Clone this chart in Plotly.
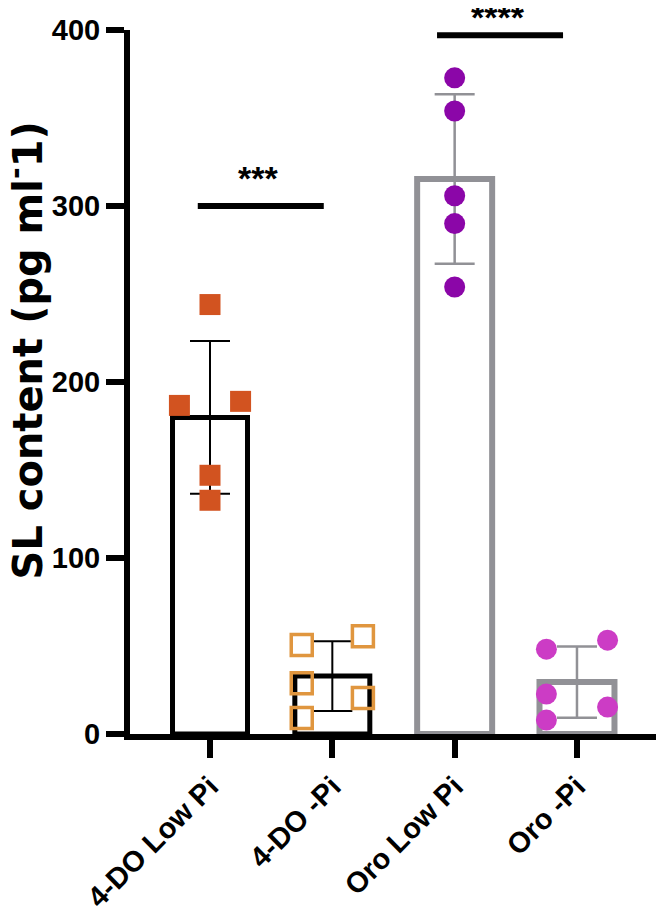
import numpy as np
import plotly.graph_objects as go

# ---------------- data ----------------
categories = ["4-DO Low Pi", "4-DO -Pi", "Oro Low Pi", "Oro -Pi"]
do_low = [244.0, 186.7, 189.0, 147.0, 132.8]
do_minus = [50.5, 28.9, 9.1, 55.6, 20.4]
oro_low = [372.8, 354.0, 305.8, 290.0, 254.0]
oro_minus = [48.2, 22.7, 7.9, 53.3, 15.3]
sig_y = [300, 397]
sig_text = ["***", "****"]
y_ticks = [0, 100, 200, 300, 400]

# ---------------- layout / style ----------------
groups = [do_low, do_minus, oro_low, oro_minus]
jitter = [
    [0, -0.25, 0.25, 0, 0],
    [-0.25, -0.25, -0.25, 0.25, 0.25],
    [0, 0, 0, 0, 0],
    [-0.25, -0.25, -0.25, 0.25, 0.25],
]
bar_colors = ["#000000", "#000000", "#919196", "#919196"]
bar_lw = [5, 5, 6, 6]
err_w = [2, 2, 2.5, 2.5]
pt_symbols = ["square", "square-open", "circle", "circle"]
pt_colors = ["#D25320", "#E0963F", "#8B06A8", "#CC3CC5"]
pt_sizes = [21, 21, 21, 21]
pt_line = [0, 3.5, 0, 0]
sig_span = [(-0.10, 0.93), (1.856, 2.886)]
sig_shift = [7, -3]

FONT = "Liberation Sans, Arial, Helvetica, sans-serif"

fig = go.Figure()

for i, vals in enumerate(groups):
    arr = np.array(vals)
    mean = float(arr.mean())
    sd = float(arr.std(ddof=1))
    fig.add_trace(go.Bar(
        x=[i], y=[mean], width=0.613,
        marker=dict(color="white", line=dict(color=bar_colors[i], width=bar_lw[i])),
        error_y=dict(type="data", array=[sd], visible=True,
                     color=bar_colors[i], thickness=err_w[i], width=20),
        showlegend=False, hoverinfo="skip",
    ))

for i, vals in enumerate(groups):
    xs = [i + j for j in jitter[i]]
    mk = dict(symbol=pt_symbols[i], size=pt_sizes[i], color=pt_colors[i])
    if pt_line[i] > 0:
        mk["line"] = dict(color=pt_colors[i], width=pt_line[i])
    else:
        mk["line"] = dict(width=0)
    fig.add_trace(go.Scatter(
        x=xs, y=vals, mode="markers", marker=mk,
        cliponaxis=False, showlegend=False,
    ))

for k, (yv, txt) in enumerate(zip(sig_y, sig_text)):
    x0, x1 = sig_span[k]
    fig.add_shape(type="line", xref="x", yref="y", x0=x0, x1=x1, y0=yv, y1=yv,
                  line=dict(color="black", width=6))
    fig.add_annotation(x=(x0 + x1) / 2 - 0.02, y=yv, xref="x", yref="y",
                       text=txt, showarrow=False, yanchor="bottom",
                       yshift=sig_shift[k],
                       font=dict(family=FONT, size=34, color="black", weight="bold"))

# y-axis title as annotation for precise placement
fig.add_annotation(
    xref="paper", yref="paper", x=-0.197, y=0.545,
    text="SL content (pg ml<sup>-</sup>1)", textangle=-90, showarrow=False,
    xanchor="center", yanchor="middle",
    font=dict(family="DejaVu Sans, sans-serif", size=40, color="black", weight="bold"),
)

# the page body adds an 8px offset, so the figure size/margins compensate
fig.update_layout(
    width=656, height=902,
    margin=dict(l=122, r=2, t=22, b=176, autoexpand=False),
    paper_bgcolor="white", plot_bgcolor="white",
    barmode="overlay",
    showlegend=False,
    font=dict(family=FONT, color="black"),
)

fig.update_xaxes(
    range=[-0.654, 3.695], automargin=False,
    tickmode="array", tickvals=list(range(len(categories))), ticktext=categories,
    tickangle=-45,
    tickfont=dict(family=FONT, size=29, color="black", weight="bold"),
    showline=True, linecolor="black", linewidth=6,
    ticks="outside", ticklen=18, tickwidth=6, tickcolor="black",
    showgrid=False, zeroline=False,
)
fig.update_yaxes(
    range=[0, 400], automargin=False,
    tickmode="array", tickvals=y_ticks,
    tickfont=dict(family=FONT, size=29, color="black", weight="bold"),
    showline=True, linecolor="black", linewidth=6,
    ticks="outside", ticklen=18, tickwidth=6, tickcolor="black",
    showgrid=False, zeroline=False,
)

fig.write_html("out.html")
